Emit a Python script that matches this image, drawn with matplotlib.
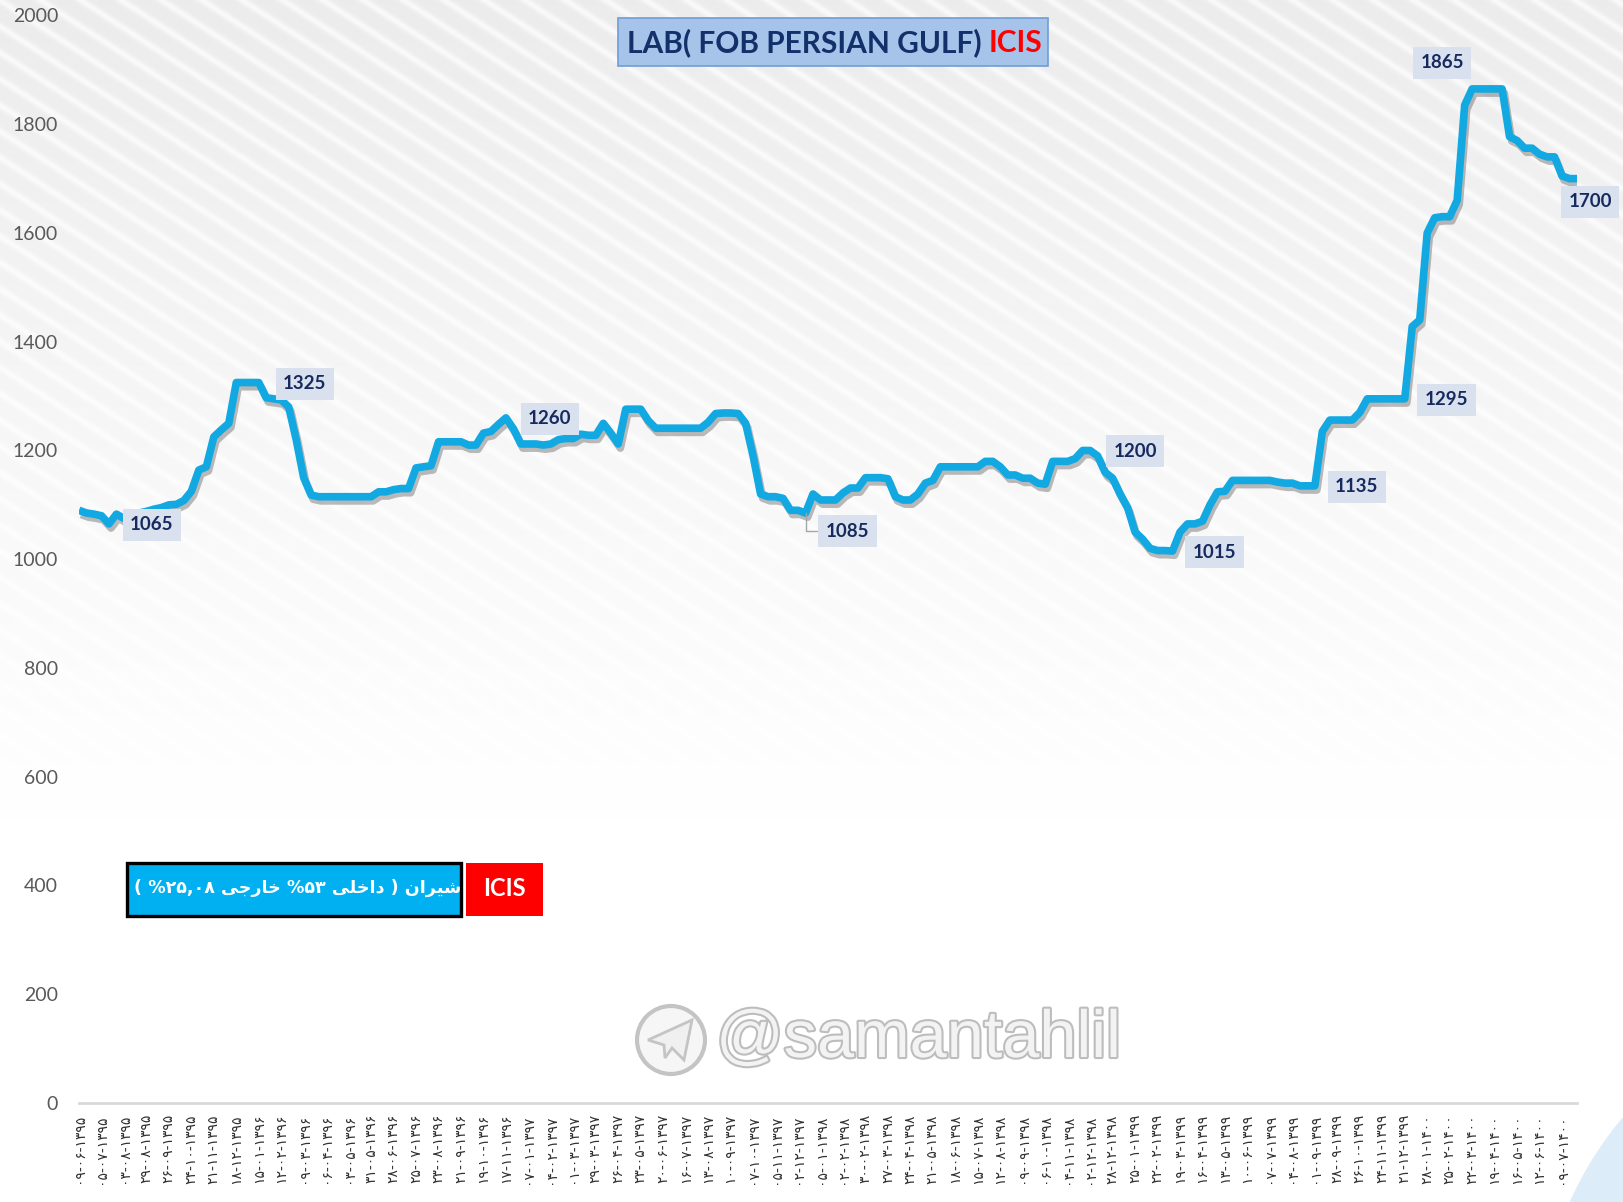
import numpy as np
import matplotlib
matplotlib.use("Agg")
import matplotlib.pyplot as plt
from matplotlib import patheffects as pe
from matplotlib.patches import Rectangle, Ellipse, Polygon

# ---------------- data ----------------
prices = [
    1090, 1085, 1083, 1080, 1065, 1083, 1075, 1082, 1085, 1088,
    1092, 1095, 1100, 1101, 1108, 1125, 1164, 1170, 1225, 1238,
    1250, 1325, 1325, 1325, 1325, 1297, 1295, 1293, 1280, 1220,
    1150, 1118, 1115, 1115, 1115, 1115, 1115, 1115, 1115, 1115,
    1124, 1124, 1128, 1130, 1130, 1168, 1170, 1172, 1216, 1216,
    1216, 1216, 1210, 1210, 1232, 1235, 1248, 1260, 1240, 1212,
    1212, 1212, 1210, 1212, 1220, 1222, 1222, 1230, 1228, 1228,
    1250, 1232, 1212, 1276, 1276, 1276, 1255, 1241, 1241, 1241,
    1241, 1241, 1241, 1241, 1252, 1268, 1269, 1269, 1268, 1250,
    1190, 1120, 1115, 1115, 1112, 1090, 1090, 1085, 1120, 1109,
    1109, 1109, 1122, 1131, 1131, 1150, 1150, 1150, 1148, 1115,
    1109, 1109, 1120, 1140, 1145, 1170, 1170, 1170, 1170, 1170,
    1170, 1180, 1180, 1170, 1155, 1155, 1149, 1149, 1140, 1138,
    1180, 1180, 1180, 1185, 1200, 1200, 1190, 1160, 1149, 1120,
    1095, 1050, 1037, 1020, 1016, 1016, 1015, 1050, 1065, 1065,
    1070, 1100, 1124, 1125, 1145, 1145, 1145, 1145, 1145, 1145,
    1142, 1140, 1140, 1135, 1135, 1135, 1235, 1256, 1256, 1256,
    1256, 1270, 1295, 1295, 1295, 1295, 1295, 1295, 1428, 1440,
    1600, 1628, 1630, 1630, 1660, 1835, 1865, 1865, 1865, 1865,
    1865, 1777, 1770, 1756, 1756, 1745, 1740, 1740, 1705, 1700,
    1700,
]

date_labels = [
    "09-06-1395", "05-07-1395", "03-08-1395", "29-08-1395", "26-09-1395",
    "24-10-1395", "21-11-1395", "18-12-1395",
    "15-01-1396", "12-02-1396", "09-03-1396", "06-04-1396", "03-05-1396",
    "31-05-1396", "28-06-1396", "25-07-1396", "23-08-1396", "21-09-1396",
    "19-10-1396", "17-11-1396",
    "07-01-1397", "04-02-1397", "01-03-1397", "29-03-1397", "26-04-1397",
    "23-05-1397", "20-06-1397", "16-07-1397", "13-08-1397", "10-09-1397",
    "07-10-1397", "05-11-1397", "02-12-1397",
    "05-01-1398", "02-02-1398", "30-02-1398", "27-03-1398", "24-04-1398",
    "21-05-1398", "18-06-1398", "15-07-1398", "12-08-1398", "09-09-1398",
    "06-10-1398", "04-11-1398", "02-12-1398", "28-12-1398",
    "25-01-1399", "22-02-1399", "19-03-1399", "16-04-1399", "13-05-1399",
    "10-06-1399", "07-07-1399", "04-08-1399", "01-09-1399", "28-09-1399",
    "26-10-1399", "24-11-1399", "21-12-1399",
    "28-01-1400", "25-02-1400", "22-03-1400", "19-04-1400", "16-05-1400",
    "12-06-1400", "09-07-1400",
]
label_step = 3

y_ticks = [0, 200, 400, 600, 800, 1000, 1200, 1400, 1600, 1800, 2000]

# indices of points that carry a data label, with their label offsets (px)
labelled_points = [4, 24, 57, 97, 135, 146, 165, 177, 186, 200]
label_offsets_px = [(43, -1), (46, -1), (44, -1), (42, -18), (45, -1),
                    (42, -1), (42, -1), (42, -1), (-30, 26), (13, -23)]

title_main = "LAB( FOB PERSIAN GULF) "
title_red = "ICIS"
legend_red = "ICIS"
watermark = "@samantahlil"

# Persian legend text, written in visual (left-to-right) order with
# Arabic presentation forms so that it renders joined.
shiran = "\uFEE5\uFE8D\uFEAE\uFEF4\uFEB7"          # شیران
dakheli = "\uFBFD\uFEE0\uFEA7\uFE8D\uFEA9"         # داخلی
khareji = "\uFBFD\uFE9F\uFEAD\uFE8E\uFEA7"         # خارجی
fa_digits = str.maketrans("0123456789", "۰۱۲۳۴۵۶۷۸۹")
legend_text = "( %" + "25,08".translate(fa_digits) + " " + khareji + " %" + \
    "53".translate(fa_digits) + " " + dakheli + " ) " + shiran

# ---------------- figure ----------------
W, H = 1624, 1202
DPI = 100
fig = plt.figure(figsize=(W / DPI, H / DPI), dpi=DPI)

def fx(px):
    return px / W

def fy(py):
    return 1 - py / H

# background: light diagonal stripes fading to white
bg_ax = fig.add_axes([0, 0, 1, 1], zorder=0)
yy, xx = np.mgrid[0:H, 0:W].astype(float)
theta = np.deg2rad(33)
d = xx * np.sin(theta) - yy * np.cos(theta)
period = 22.0
s = (0.5 + 0.5 * np.cos(2 * np.pi * d / period)) ** 4
fade = np.clip(1 - yy / 820.0, 0, 1) ** 1.1
gray = 0.075 * fade * (1 - 0.7 * s)
img = np.ones((H, W, 3)) - gray[..., None]
bg_ax.imshow(img, extent=(0, 1, 0, 1), aspect="auto", interpolation="bilinear")
bg_ax.set_xlim(0, 1)
bg_ax.set_ylim(0, 1)
bg_ax.axis("off")

# pale blue shape in the bottom-right corner
fig.patches.append(Ellipse((fx(1900), fy(1350)), 2 * 362 / W, 2 * 362 / H,
                           transform=fig.transFigure, facecolor="#dcecf9",
                           edgecolor="none", zorder=0.5))

# main axes
ax = fig.add_axes([fx(79), fy(1103), fx(1577) - fx(79), fy(15.5) - fy(1103)],
                  zorder=2)
ax.set_facecolor("none")

x = np.arange(len(prices))
ax.plot(x, prices, color="#12a8e2", lw=5.5, solid_joinstyle="round",
        solid_capstyle="butt", zorder=3,
        path_effects=[pe.SimpleLineShadow(offset=(1.5, -3), shadow_color="#404040",
                                          alpha=0.35),
                      pe.Normal()])

ax.set_xlim(0, len(prices) - 1)
ax.set_ylim(0, 2000)
ax.set_yticks(y_ticks)
ax.set_yticklabels([str(v) for v in y_ticks], fontsize=14, color="#595959",
                   family="Lato")
tick_pos = list(range(0, len(prices), label_step))[:len(date_labels)]
ax.set_xticks(tick_pos)
ax.set_xticklabels([s.translate(fa_digits) for s in date_labels], rotation=90,
                   fontsize=10, color="#303030", family="DejaVu Sans")
ax.tick_params(axis="y", length=0, pad=15)
ax.tick_params(axis="x", length=0, pad=8)
for side in ("left", "right", "top"):
    ax.spines[side].set_visible(False)
ax.spines["bottom"].set_color("#d9d9d9")
ax.spines["bottom"].set_linewidth(2)

# data labels
for idx, (dx, dy) in zip(labelled_points, label_offsets_px):
    kw = {}
    if idx == 97:
        kw["arrowprops"] = dict(arrowstyle="-", color="#a6a6a6", lw=1,
                                connectionstyle="angle,angleA=0,angleB=90",
                                shrinkA=0, shrinkB=0)
    ax.annotate(str(prices[idx]), xy=(idx, prices[idx]),
                xytext=(dx * 0.72, dy * 0.72), textcoords="offset points",
                ha="center", va="center", fontsize=13.5, fontweight="bold",
                family="Lato", color="#172a5e", zorder=5, annotation_clip=False,
                bbox=dict(boxstyle="square,pad=0.4", facecolor="#d9e1ee",
                          edgecolor="none"), **kw)

# title box
fig.patches.append(Rectangle((fx(618), fy(66.3)), fx(1048) - fx(618),
                             fy(17.6) - fy(66.3), transform=fig.transFigure,
                             facecolor="#a6c3ea", edgecolor="#6f9dd4", lw=1.2,
                             zorder=4))
t1 = fig.text(fx(627), fy(43), title_main, fontsize=21.5, fontweight="bold",
              family="Lato", color="#13306a", ha="left", va="center", zorder=5)
fig.canvas.draw()
bb = t1.get_window_extent(fig.canvas.get_renderer())
fig.text(bb.x1 / W, fy(43), title_red, fontsize=21.5, fontweight="bold",
         family="Lato", color="#ff0000", ha="left", va="center", zorder=5)

# legend boxes
fig.patches.append(Rectangle((fx(127.4), fy(915.6)), fx(461) - fx(127.4),
                             fy(862.7) - fy(915.6), transform=fig.transFigure,
                             facecolor="#00b0f0", edgecolor="black", lw=2.4,
                             zorder=4))
fig.text(fx(298), fy(888), legend_text, fontsize=12.6, fontweight="bold",
         family=["DejaVu Sans"], color="white", ha="center", va="center",
         zorder=5)
fig.patches.append(Rectangle((fx(466), fy(915.6)), fx(543) - fx(466),
                             fy(862.7) - fy(915.6), transform=fig.transFigure,
                             facecolor="#ff0000", edgecolor="none", zorder=4))
fig.text(fx(504.5), fy(888), legend_red, fontsize=17, fontweight="bold",
         family="Lato", color="white", ha="center", va="center", zorder=5)

# watermark
fig.patches.append(Ellipse((fx(671), fy(1040)), 2 * 34 / W, 2 * 34 / H,
                           transform=fig.transFigure, facecolor="#f6f6f6",
                           edgecolor="#c4c4c4", lw=3, zorder=1))
plane = [(648, 1040), (692, 1020), (684, 1060), (672, 1048), (665, 1058),
         (664, 1045)]
fig.patches.append(Polygon([(fx(a), fy(b)) for a, b in plane], closed=True,
                           transform=fig.transFigure, facecolor="#f0f0f0",
                           edgecolor="#c4c4c4", lw=2, zorder=1))
fig.text(fx(716), fy(1040), watermark, fontsize=48, family="Liberation Sans",
         color="#f3f3f3", ha="left", va="center", zorder=1,
         path_effects=[pe.withStroke(linewidth=3, foreground="#bdbdbd")])

fig.savefig("out.png", dpi=DPI)
